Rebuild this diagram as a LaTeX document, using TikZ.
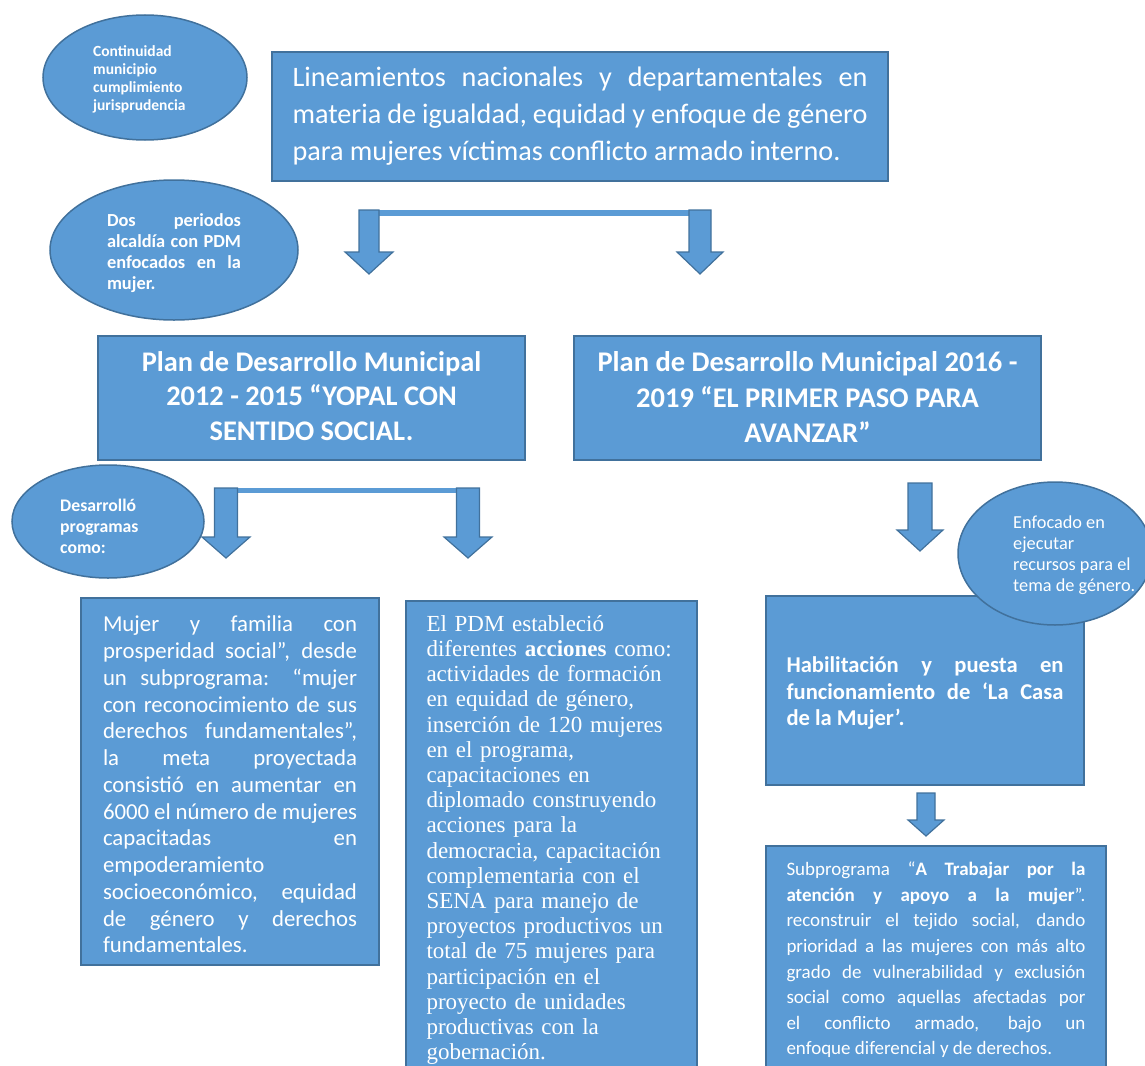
\documentclass[tikz,border=0pt]{standalone}
\usepackage{fontspec}
\setmainfont{Carlito}
\newfontfamily\timesfont{Liberation Serif}
\usetikzlibrary{shapes.geometric}

\definecolor{boxblue}{HTML}{5B9BD5}
\definecolor{edgeblue}{HTML}{41719C}

% block arrow: x, top, neck, tip, half shaft, half head
\newcommand{\blockarr}[6]{%
  \filldraw[arrbody] (#1-#5,#2) -- (#1-#5,#3) -- (#1-#6,#3) -- (#1,#4)
    -- (#1+#6,#3) -- (#1+#5,#3) -- (#1+#5,#2) -- cycle;}

\begin{document}
\begin{tikzpicture}[x=1pt, y=-1pt,
  box/.style={rectangle, draw=edgeblue, fill=boxblue, line width=2pt, text=white, inner sep=0pt},
  bubble/.style={ellipse, draw=edgeblue, fill=boxblue, line width=1.5pt, inner sep=0pt},
  btext/.style={text=white, anchor=west, inner sep=0pt, align=left},
  arrbody/.style={fill=boxblue, draw=edgeblue, line width=1.2pt, line join=miter},
  bar/.style={fill=boxblue}]

    \useasboundingbox (0,0) rectangle (1145,1065);
    \clip (0,0) rectangle (1145,1065);

    % Connecting bars and arrows
    \fill[bar] (364,210) rectangle (711,216);
    \blockarr{369}{210}{252}{274}{10}{24}
    \blockarr{700}{210}{252}{274}{11}{23}
    \fill[bar] (215,488) rectangle (480,493);
    \blockarr{226}{488}{537}{558}{11.5}{24}
    \blockarr{468}{488}{537}{558}{11.5}{24}
    \blockarr{920}{483}{530}{551}{12}{23}
    \blockarr{926}{793}{820}{836}{9}{18}

    % Boxes
    \node[box, minimum width=616pt, minimum height=129pt, text width=575pt, align=justify,
          font=\fontsize{28.2}{37}\selectfont] (lin) at (580,116.5)
          {Lineamientos nacionales y departamentales en\linebreak materia de igualdad, equidad y enfoque de género\linebreak para mujeres víctimas conflicto armado interno.};

    \node[box, minimum width=427pt, minimum height=124pt, align=center,
          font=\fontsize{28.4}{34.5}\selectfont\bfseries] (plan1) at (311.5,398)
          {Plan de Desarrollo Municipal\\ 2012 - 2015 “YOPAL CON\\ SENTIDO SOCIAL.\vspace{4pt}};

    \node[box, minimum width=467pt, minimum height=124pt, align=center,
          font=\fontsize{28.5}{35.5}\selectfont\bfseries] (plan2) at (807.5,398)
          {Plan de Desarrollo Municipal 2016 -\\ 2019 “EL PRIMER PASO PARA\\ AVANZAR”\vspace{2pt}};

    \node[box, minimum width=298pt, minimum height=367pt, text width=254pt, align=justify,
          font=\fontsize{22.8}{26.75}\selectfont] (mujer) at (230,781.5)
          {Mujer y familia con\linebreak prosperidad social”, desde\linebreak un subprograma: “mujer\linebreak con reconocimiento de sus\linebreak derechos fundamentales”,\linebreak la meta proyectada\linebreak consistió en aumentar en\linebreak 6000 el número de mujeres\linebreak capacitadas en\linebreak empoderamiento\linebreak socioeconómico, equidad\linebreak de género y derechos\linebreak fundamentales.\vspace{-6pt}};

    \node[box, minimum width=291pt, minimum height=478pt, text width=250pt, align=left,
          font=\timesfont\fontsize{23}{25.2}\selectfont] (pdm) at (551.5,840)
          {El PDM estableció\\ diferentes \textbf{acciones} como:\\ actividades de formación\\ en equidad de género,\\ inserción de 120 mujeres\\ en el programa,\\ capacitaciones en\\ diplomado construyendo\\ acciones para la\\ democracia, capacitación\\ complementaria con el\\ SENA para manejo de\\ proyectos productivos un\\ total de 75 mujeres para\\ participación en el\\ proyecto de unidades\\ productivas con la\\ gobernación.};

    \node[box, minimum width=318pt, minimum height=189pt, text width=277pt, align=justify,
          font=\fontsize{22.6}{26.5}\selectfont\bfseries] (casa) at (925,690.5)
          {Habilitación y puesta en\linebreak funcionamiento de ‘La Casa\linebreak de la Mujer’.\vspace{-5pt}};

    \node[box, minimum width=340pt, minimum height=229pt, text width=299pt, align=justify,
          font=\fontsize{19}{25.6}\selectfont] (sub) at (936,960)
          {Subprograma “\textbf{A Trabajar por la}\linebreak \textbf{atención y apoyo a la mujer}”.\linebreak reconstruir el tejido social, dando\linebreak prioridad a las mujeres con más alto\linebreak grado de vulnerabilidad y exclusión\linebreak social como aquellas afectadas por\linebreak el conflicto armado, bajo un\linebreak enfoque diferencial y de derechos.};

    % Ellipses with notes
    \node[bubble, minimum width=204pt, minimum height=125pt] (cont) at (145,77.5) {};
    \node[btext, font=\fontsize{15.5}{18}\selectfont\bfseries] (conttxt) at ([xshift=-52pt,yshift=-1.5pt]cont.center)
          {Continuidad\\ municipio\\ cumplimiento\\ jurisprudencia};

    \node[bubble, minimum width=248pt, minimum height=140pt] (dos) at (174,250) {};
    \node[text=white, inner sep=0pt, text width=134pt, align=justify,
          font=\fontsize{18.4}{21}\selectfont\bfseries] (dostxt) at ([yshift=-3.5pt]dos.center)
          {Dos periodos\linebreak alcaldía con PDM\linebreak enfocados en la\linebreak mujer.};

    \node[bubble, minimum width=192pt, minimum height=113pt] (desa) at (108,521.5) {};
    \node[btext, font=\fontsize{17.7}{21}\selectfont\bfseries] (desatxt) at ([xshift=-48pt,yshift=-4.5pt]desa.center)
          {Desarrolló\\ programas\\ como:};

    \node[bubble, minimum width=194pt, minimum height=143pt] (enf) at (1055,553.5) {};
    \node[btext, font=\fontsize{18.3}{21}\selectfont] (enftxt) at ([xshift=-42pt,yshift=-1.5pt]enf.center)
          {Enfocado en\\ ejecutar\\ recursos para el\\ tema de género.};

\end{tikzpicture}
\end{document}
